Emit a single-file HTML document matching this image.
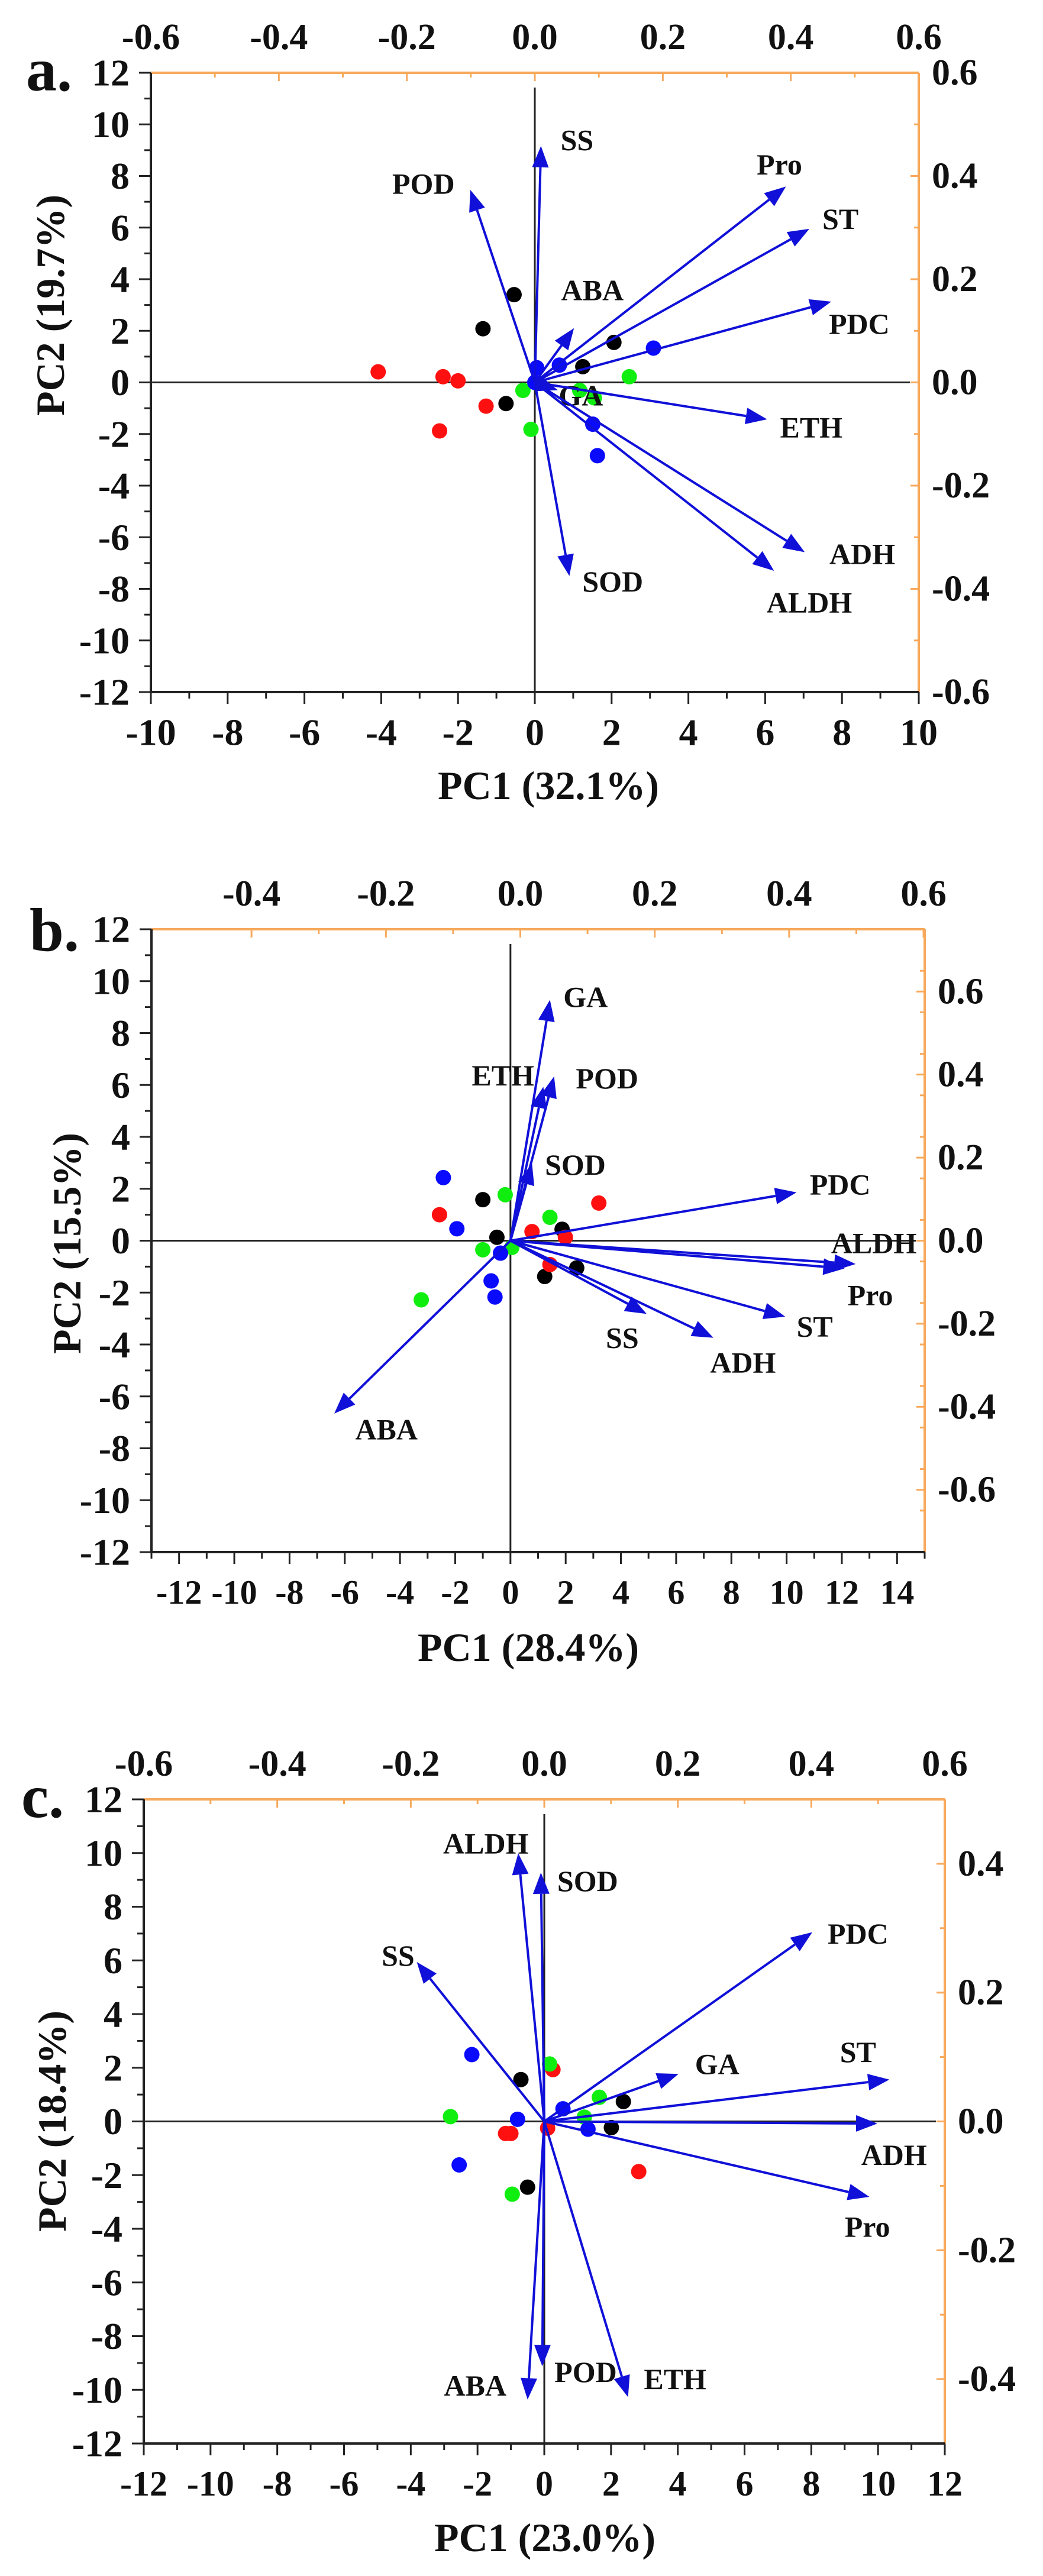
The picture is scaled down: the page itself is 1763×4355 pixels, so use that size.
<!DOCTYPE html>
<html><head><meta charset="utf-8"><style>
html,body{margin:0;padding:0;background:#fff;}
svg{display:block;}
text{font-family:"Liberation Serif","Times New Roman",serif;font-weight:bold;fill:#111;}
</style></head><body>
<svg id="chart" width="1763" height="4355" viewBox="0 0 1763 4355" font-family="Liberation Serif, serif" font-weight="bold" xmlns="http://www.w3.org/2000/svg"></svg>
<script>
// ===== Panel a data =====
const aVars = ["SS","POD","Pro","ST","PDC","ABA","GA","ETH","ADH","ALDH","SOD"];
const aVarX = [0.16,-1.68,6.54,7.15,7.72,1.02,0.6,6.05,7.03,6.23,0.9];
const aVarY = [9.16,7.46,7.59,5.95,3.13,2.1,-0.3,-1.43,-6.58,-7.3,-7.5];
const aLabX = [1.1,-2.9,6.37,7.96,8.45,1.5,1.2,7.2,8.53,7.15,2.03];
const aLabY = [9.4,7.7,8.45,6.34,2.27,3.58,-0.5,-1.74,-6.65,-8.53,-7.71];
const aBlackX = [-0.54,-1.35,2.06,1.25,-0.75];
const aBlackY = [3.4,2.08,1.55,0.61,-0.82];
const aRedX = [-4.08,-2.39,-2.0,-1.27,-2.48];
const aRedY = [0.41,0.22,0.06,-0.92,-1.88];
const aBlueX = [3.09,0.64,0.05,0.0,1.51,1.63];
const aBlueY = [1.33,0.67,0.57,0.0,-1.62,-2.84];
const aGreenX = [2.46,-0.31,1.17,1.55,-0.1];
const aGreenY = [0.22,-0.31,-0.31,-0.6,-1.82];
const aBottomTicks = [-10,-8,-6,-4,-2,0,2,4,6,8,10];
const aLeftTicks = [-12,-10,-8,-6,-4,-2,0,2,4,6,8,10,12];
const aTopTicks = ["-0.6","-0.4","-0.2","0.0","0.2","0.4","0.6"];
const aRightTicks = ["-0.6","-0.4","-0.2","0.0","0.2","0.4","0.6"];

// ===== Panel b data =====
const bVars = ["GA","POD","ETH","SOD","PDC","ALDH","Pro","ST","ADH","SS","ABA"];
const bVarX = [1.43,1.58,1.19,0.78,10.36,12.5,12.1,9.95,7.35,4.93,-6.38];
const bVarY = [9.28,6.33,5.93,2.98,1.86,-0.9,-1.07,-2.93,-3.74,-2.82,-6.66];
const bLabX = [2.72,3.5,-0.27,2.35,11.94,13.16,13.03,11.02,8.42,4.05,-4.49];
const bLabY = [9.39,6.26,6.37,2.93,2.17,-0.09,-2.1,-3.31,-4.69,-3.74,-7.27];
const bBlackX = [-1.0,-0.49,1.87,2.4,1.24];
const bBlackY = [1.58,0.13,0.44,-1.05,-1.38];
const bRedX = [-2.57,3.2,0.78,1.99,1.43];
const bRedY = [1.0,1.45,0.35,0.13,-0.92];
const bBlueX = [-2.43,-1.94,-0.36,-0.7,-0.56];
const bBlueY = [2.43,0.46,-0.48,-1.55,-2.17];
const bGreenX = [-0.19,1.43,-1.0,0.05,-3.23];
const bGreenY = [1.77,0.9,-0.35,-0.26,-2.28];
const bBottomTicks = [-12,-10,-8,-6,-4,-2,0,2,4,6,8,10,12,14];
const bLeftTicks = [-12,-10,-8,-6,-4,-2,0,2,4,6,8,10,12];
const bTopTicks = ["-0.4","-0.2","0.0","0.2","0.4","0.6"];
const bRightTicks = ["-0.6","-0.4","-0.2","0.0","0.2","0.4","0.6"];

// ===== Panel c data =====
const cVars = ["ALDH","SOD","SS","PDC","GA","ST","ADH","Pro","ABA","POD","ETH"];
const cVarX = [-0.78,-0.1,-3.82,8.03,4.02,10.34,9.98,9.74,-0.5,-0.06,2.51];
const cVarY = [9.99,9.27,5.94,7.05,1.77,1.56,-0.08,-2.81,-10.36,-9.12,-10.27];
const cLabX = [-1.75,1.3,-4.38,9.4,5.18,9.4,10.48,9.68,-2.07,1.24,3.92];
const cLabY = [10.36,8.96,6.18,7.0,2.14,2.59,-1.25,-3.92,-9.84,-9.33,-9.6];
const cBlackX = [-0.7,2.37,2.01,-0.5];
const cBlackY = [1.56,0.74,-0.23,-2.45];
const cRedX = [0.26,-1.16,-1.0,0.1,2.83];
const cRedY = [1.93,-0.45,-0.45,-0.25,-1.87];
const cBlueX = [-2.17,-0.8,0.56,1.31,-2.55];
const cBlueY = [2.49,0.08,0.47,-0.29,-1.62];
const cGreenX = [0.16,1.65,-2.81,1.2,-0.96];
const cGreenY = [2.14,0.9,0.18,0.16,-2.71];
const cBottomTicks = [-12,-10,-8,-6,-4,-2,0,2,4,6,8,10,12];
const cLeftTicks = [-12,-10,-8,-6,-4,-2,0,2,4,6,8,10,12];
const cTopTicks = ["-0.6","-0.4","-0.2","0.0","0.2","0.4","0.6"];
const cRightTicks = ["-0.4","-0.2","0.0","0.2","0.4"];

const NS = "http://www.w3.org/2000/svg";
const svg = document.getElementById("chart");
function mk(tag, attrs, parent){
  const e = document.createElementNS(NS, tag);
  for (const k in attrs) e.setAttribute(k, attrs[k]);
  (parent||svg).appendChild(e);
  return e;
}
const ORANGE = "#f7a95c", BLUE = "#1010d8";

function panel(cfg){
  const g = mk("g", {});
  
  
  const {L,R,T,B,x0,x1,y0,y1,t0,t1,r0,r1} = cfg;
  const sx = v => L + (v - x0) / (x1 - x0) * (R - L);
  const sy = v => B - (v - y0) / (y1 - y0) * (B - T);
  const tx = v => L + (v - t0) / (t1 - t0) * (R - L);
  const ry = v => B - (v - r0) / (r1 - r0) * (B - T);

  const top = mk("line", {x1:L, y1:T, x2:R, y2:T, stroke:ORANGE, "stroke-width":4}, g);
  
  
  const right = mk("line", {x1:R, y1:T, x2:R, y2:B, stroke:ORANGE, "stroke-width":4}, g);
  
  
  cfg.topTicks.forEach((s,i) => {
    const v = parseFloat(s), x = tx(v);
    mk("line", {x1:x, y1:T, x2:x, y2:T+14, stroke:ORANGE, "stroke-width":3}, g);
    const t = mk("text", {x:x, y:T-60, "font-size":62, "text-anchor":"middle", "dominant-baseline":"central"}, g);
    t.textContent = s;
    
    
    if (i < cfg.topTicks.length - 1) {
      const xm = tx(v + (parseFloat(cfg.topTicks[1]) - parseFloat(cfg.topTicks[0]))/2);
      mk("line", {x1:xm, y1:T, x2:xm, y2:T+8, stroke:ORANGE, "stroke-width":3}, g);
    }
  });
  cfg.rightTicks.forEach((s,i) => {
    const v = parseFloat(s), y = ry(v);
    mk("line", {x1:R, y1:y, x2:R-14, y2:y, stroke:ORANGE, "stroke-width":3}, g);
    const t = mk("text", {x:R+22, y:y, "font-size":62, "text-anchor":"start", "dominant-baseline":"central"}, g);
    t.textContent = s;
    
    
  });
  for (let v = r0; v <= r1 + 1e-9; v += 0.1) {
    const y = ry(v);
    mk("line", {x1:R, y1:y, x2:R-8, y2:y, stroke:ORANGE, "stroke-width":3}, g);
  }

  const la = mk("line", {x1:L, y1:T, x2:L, y2:B+2, stroke:"#222", "stroke-width":4}, g);
  
  
  const ba = mk("line", {x1:L-2, y1:B, x2:R, y2:B, stroke:"#222", "stroke-width":4}, g);
  
  
  cfg.leftTicks.forEach(v => {
    const y = sy(v);
    mk("line", {x1:L, y1:y, x2:L-20, y2:y, stroke:"#222", "stroke-width":3}, g);
    const t = mk("text", {x:L-36, y:y, "font-size":64, "text-anchor":"end", "dominant-baseline":"central"}, g);
    t.textContent = v;
    
    
    if (v < y1) mk("line", {x1:L, y1:sy(v+1), x2:L-11, y2:sy(v+1), stroke:"#222", "stroke-width":3}, g);
  });
  cfg.bottomTicks.forEach(v => {
    const x = sx(v);
    mk("line", {x1:x, y1:B, x2:x, y2:B+20, stroke:"#222", "stroke-width":3}, g);
    const t = mk("text", {x:x, y:B+68, "font-size":cfg.bfs||64, "text-anchor":"middle", "dominant-baseline":"central"}, g);
    t.textContent = v;
    
    
  });
  for (let v = Math.ceil(x0); v <= x1; v++) {
    if (v % 2 !== 0) mk("line", {x1:sx(v), y1:B, x2:sx(v), y2:B+11, stroke:"#222", "stroke-width":3}, g);
  }

  const zh = mk("line", {x1:L, y1:sy(0), x2:R-15, y2:sy(0), stroke:"#222", "stroke-width":3}, g);
  
  
  const zv = mk("line", {x1:sx(0), y1:T+25, x2:sx(0), y2:B, stroke:"#222", "stroke-width":3}, g);
  
  

  const groups = [[cfg.blackX,cfg.blackY,"#000000","black"],[cfg.redX,cfg.redY,"#ff1010","red"],[cfg.greenX,cfg.greenY,"#10ee10","green"],[cfg.blueX,cfg.blueY,"#0a0aff","blue"]];
  groups.forEach(([xs,ys,col,nm]) => {
    xs.forEach((v,i) => {
      const c = mk("circle", {cx:sx(v), cy:sy(ys[i]), r:13, fill:col}, g);
      
      
    });
  });

  const ox = sx(0), oy = sy(0);
  cfg.vars.forEach((name,i) => {
    const ex = sx(cfg.varX[i]), ey = sy(cfg.varY[i]);
    const dx = ex-ox, dy = ey-oy, len = Math.hypot(dx,dy)||1;
    const ux = dx/len, uy = dy/len, hl = 36, hw = 14;
    const bx = ex-ux*hl, by = ey-uy*hl;
    const ln = mk("line", {x1:ox, y1:oy, x2:bx, y2:by, stroke:BLUE, "stroke-width":4}, g);
    
    
    const hd = mk("polygon", {points:`${ex},${ey} ${bx-uy*hw},${by+ux*hw} ${bx+uy*hw},${by-ux*hw}`, fill:BLUE}, g);
    
    
    const t = mk("text", {x:sx(cfg.labX[i]), y:sy(cfg.labY[i]), "font-size":50, "text-anchor":"middle", "dominant-baseline":"central"}, g);
    t.textContent = name;
    
    
  });

  const xt = mk("text", {x:cfg.xtX, y:cfg.xtY, "font-size":68, "text-anchor":"middle", "dominant-baseline":"central"}, g);
  xt.textContent = cfg.xTitle;
  
  
  const yt = mk("text", {x:0, y:0, "font-size":68, "text-anchor":"middle", "dominant-baseline":"central", transform:`translate(${cfg.ytX},${cfg.ytY}) rotate(-90)`}, g);
  yt.textContent = cfg.yTitle;
  
  
  const pl = mk("text", {x:cfg.plX, y:cfg.plY, "font-size":104, "text-anchor":"start"}, g);
  pl.textContent = cfg.letter;
  
  
}

panel({id:"a", L:255,R:1553,T:123,B:1170, x0:-10,x1:10,y0:-12,y1:12, t0:-0.6,t1:0.6, r0:-0.6,r1:0.6,
  topTicks:aTopTicks, rightTicks:aRightTicks, leftTicks:aLeftTicks, bottomTicks:aBottomTicks,
  vars:aVars, varX:aVarX, varY:aVarY, labX:aLabX, labY:aLabY,
  blackX:aBlackX, blackY:aBlackY, redX:aRedX, redY:aRedY, blueX:aBlueX, blueY:aBlueY, greenX:aGreenX, greenY:aGreenY,
  xTitle:"PC1 (32.1%)", yTitle:"PC2 (19.7%)", xtX:927, xtY:1328, ytX:85, ytY:516, letter:"a.", plX:44, plY:153});

panel({id:"b", L:256,R:1563,T:1571,B:2624, x0:-13,x1:15,y0:-12,y1:12, t0:-0.5489,t1:0.6017, r0:-0.75,r1:0.75,
  topTicks:bTopTicks, rightTicks:bRightTicks, leftTicks:bLeftTicks, bottomTicks:bBottomTicks, bfs:58,
  vars:bVars, varX:bVarX, varY:bVarY, labX:bLabX, labY:bLabY,
  blackX:bBlackX, blackY:bBlackY, redX:bRedX, redY:bRedY, blueX:bBlueX, blueY:bBlueY, greenX:bGreenX, greenY:bGreenY,
  xTitle:"PC1 (28.4%)", yTitle:"PC2 (15.5%)", xtX:893, xtY:2785, ytX:113, ytY:2102, letter:"b.", plX:50, plY:1607});

panel({id:"c", L:243,R:1597,T:3042,B:4131, x0:-12,x1:12,y0:-12,y1:12, t0:-0.6,t1:0.6, r0:-0.5,r1:0.5,
  topTicks:cTopTicks, rightTicks:cRightTicks, leftTicks:cLeftTicks, bottomTicks:cBottomTicks, bfs:60,
  vars:cVars, varX:cVarX, varY:cVarY, labX:cLabX, labY:cLabY,
  blackX:cBlackX, blackY:cBlackY, redX:cRedX, redY:cRedY, blueX:cBlueX, blueY:cBlueY, greenX:cGreenX, greenY:cGreenY,
  xTitle:"PC1 (23.0%)", yTitle:"PC2 (18.4%)", xtX:921, xtY:4290, ytX:88, ytY:3586, letter:"c.", plX:36, plY:3072});
</script>
</body></html>
